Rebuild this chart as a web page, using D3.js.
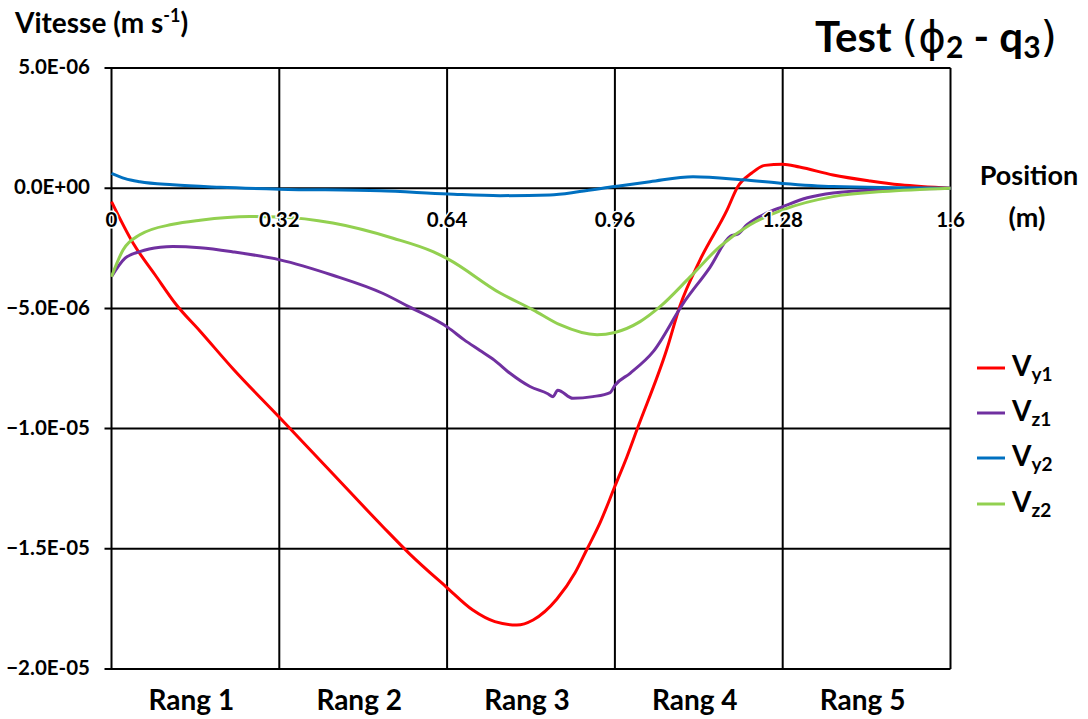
<!DOCTYPE html>
<html>
<head>
<meta charset="utf-8">
<script src="https://cdn.jsdelivr.net/npm/d3@7"></script>
<style>
  html, body { margin: 0; padding: 0; background: #fff; }
  svg { display: block; font-family: Lato, "Open Sans", sans-serif; }
</style>
</head>
<body>
<svg id="chart" width="1088" height="719"></svg>
<script>
// ---- data (velocities in units of 1e-6 m/s) ----
const UNIT = 1e-6;
const xTicks = [0, 0.32, 0.64, 0.96, 1.28, 1.6];
const xTickLabels = ["0", "0.32", "0.64", "0.96", "1.28", "1.6"];
const yTicks = [5e-6, 0, -5e-6, -1e-5, -1.5e-5, -2e-5];
const rangLabels = ["Rang 1", "Rang 2", "Rang 3", "Rang 4", "Rang 5"];
const seriesNames = ["y1", "z1", "y2", "z2"];
const seriesColors = ["#FF0000", "#7030A0", "#0070C0", "#92D050"];

const vy1X = [0, 0.041, 0.083, 0.124, 0.169, 0.232, 0.321, 0.422, 0.518, 0.569, 0.639, 0.689, 0.731, 0.773, 0.804, 0.849, 0.884, 0.906, 0.932, 0.960, 0.983, 1.002, 1.059, 1.084, 1.122, 1.174, 1.194, 1.221, 1.246, 1.280, 1.312, 1.376, 1.447, 1.504, 1.6];
const vy1Y = [-0.56, -2.28, -3.6, -4.86, -5.95, -7.52, -9.55, -11.88, -14.09, -15.22, -16.6, -17.55, -18.03, -18.17, -17.96, -17.1, -16.0, -15.05, -13.9, -12.4, -11.17, -10.05, -6.7, -4.9, -3.0, -0.9, 0.05, 0.63, 0.95, 1.0, 0.88, 0.55, 0.3, 0.14, 0];

const vz1X = [0, 0.026, 0.054, 0.093, 0.117, 0.169, 0.232, 0.321, 0.422, 0.518, 0.569, 0.642, 0.672, 0.702, 0.73, 0.76, 0.798, 0.832, 0.842, 0.851, 0.880, 0.918, 0.951, 0.960, 0.989, 1.033, 1.090, 1.141, 1.180, 1.195, 1.212, 1.250, 1.279, 1.327, 1.376, 1.471, 1.6];
const vz1Y = [-3.68, -2.91, -2.64, -2.46, -2.43, -2.48, -2.65, -2.98, -3.62, -4.38, -4.95, -5.8, -6.3, -6.74, -7.15, -7.7, -8.25, -8.55, -8.67, -8.4, -8.74, -8.67, -8.5, -8.2, -7.7, -6.8, -4.8, -3.3, -2.0, -1.9, -1.52, -1.03, -0.78, -0.4, -0.2, -0.07, 0];

const vy2X = [0, 0.026, 0.054, 0.117, 0.207, 0.321, 0.512, 0.642, 0.741, 0.836, 0.893, 0.960, 1.027, 1.109, 1.204, 1.279, 1.376, 1.6];
const vy2Y = [0.62, 0.4, 0.27, 0.14, 0.04, -0.04, -0.11, -0.24, -0.31, -0.28, -0.14, 0.07, 0.27, 0.48, 0.35, 0.2, 0.07, 0];

const vz2X = [0, 0.022, 0.054, 0.117, 0.169, 0.264, 0.321, 0.422, 0.537, 0.613, 0.642, 0.741, 0.804, 0.855, 0.926, 0.960, 1.008, 1.046, 1.103, 1.160, 1.217, 1.280, 1.376, 1.471, 1.6];
const vz2Y = [-3.68, -2.57, -1.94, -1.5, -1.33, -1.18, -1.2, -1.45, -2.08, -2.64, -2.95, -4.36, -5.06, -5.68, -6.1, -6.0, -5.55, -4.93, -3.7, -2.43, -1.53, -0.9, -0.35, -0.14, 0];

const seriesX = [vy1X, vz1X, vy2X, vz2X];
const seriesY = [vy1Y, vz1Y, vy2Y, vz2Y];

// ---- layout ----
const svg = d3.select("#chart");
const L = 111.5, R = 950.5, T = 68, B = 669;
const x = d3.scaleLinear().domain([0, 1.6]).range([L, R]);
const y = d3.scaleLinear().domain([-2e-5, 5e-6]).range([B, T]);

function sci(v) {
  const s = d3.format(".1e")(v);
  const [m, e] = s.split("e");
  const sign = e[0] === "-" ? "-" : "+";
  const digits = e.replace(/^[+-]/, "").padStart(2, "0");
  return m + "E" + sign + digits;
}

// grid horizontal lines + y ticks
const g = svg.append("g");
g.selectAll("line.h").data(yTicks).join("line")
  .attr("x1", L - 7).attr("x2", R)
  .attr("y1", d => y(d)).attr("y2", d => y(d))
  .attr("stroke", "#000").attr("stroke-width", 2);
// vertical grid lines
g.selectAll("line.v").data(xTicks).join("line")
  .attr("x1", d => x(d)).attr("x2", d => x(d))
  .attr("y1", T).attr("y2", B)
  .attr("stroke", "#000").attr("stroke-width", 2);

// y labels
svg.append("g").selectAll("text").data(yTicks).join("text")
  .attr("x", 90).attr("y", d => y(d)).attr("dy", "0.3em")
  .attr("text-anchor", "end")
  .attr("font-size", 20.5).attr("font-weight", "bold")
  .text(d => sci(d));

// series
const line = d3.line().curve(d3.curveMonotoneX);
seriesX.forEach((xs, i) => {
  const pts = xs.map((xv, j) => [x(xv), y(seriesY[i][j] * UNIT)]);
  svg.append("path").attr("d", line(pts))
    .attr("fill", "none").attr("stroke", seriesColors[i])
    .attr("stroke-width", 3).attr("stroke-linejoin", "round");
});

// x tick labels at zero line
svg.append("g").selectAll("text").data(xTicks).join("text")
  .attr("x", d => x(d)).attr("y", y(0) + 39)
  .attr("text-anchor", "middle")
  .attr("font-size", 20.5).attr("font-weight", "bold")
  .attr("stroke", "#fff").attr("stroke-width", 3).attr("paint-order", "stroke")
  .text((d, i) => xTickLabels[i]);

// Rang labels
svg.append("g").selectAll("text").data(rangLabels).join("text")
  .attr("x", (d, i) => (x(xTicks[i]) + x(xTicks[i + 1])) / 2 - 4)
  .attr("y", 710)
  .attr("text-anchor", "middle")
  .attr("font-size", 28).attr("font-weight", "bold")
  .text(d => d);

// y axis title
const yt = svg.append("text").attr("x", 15).attr("y", 33)
  .attr("font-size", 28).attr("font-weight", "bold");
yt.append("tspan").text("Vitesse (m s");
yt.append("tspan").attr("font-size", 18).attr("dy", -11).text("-1");
yt.append("tspan").attr("dy", 11).text(")");

// title
const tt = svg.append("text").attr("x", 1057).attr("y", 52)
  .attr("text-anchor", "end").attr("font-size", 42).attr("font-weight", "bold");
tt.append("tspan").text("Test ");
tt.append("tspan").attr("font-weight", "normal").attr("font-family", "DejaVu Sans").attr("font-size", 42).text("(ϕ");
tt.append("tspan").attr("font-size", 30).attr("dy", 6).text("2");
tt.append("tspan").attr("dy", -6).text(" - q");
tt.append("tspan").attr("font-size", 30).attr("dy", 6).text("3");
tt.append("tspan").attr("dy", -6).attr("font-weight", "normal").attr("font-family", "DejaVu Sans").text(")");

// x axis title
svg.append("text").attr("x", 1029).attr("y", 185).attr("text-anchor", "middle")
  .attr("font-size", 27).attr("font-weight", "bold").text("Position");
svg.append("text").attr("x", 1027).attr("y", 227).attr("text-anchor", "middle")
  .attr("font-size", 27).attr("font-weight", "bold").text("(m)");

// legend
const leg = svg.append("g");
const legY = [368, 413, 458, 504];
seriesNames.forEach((n, i) => {
  leg.append("line").attr("x1", 977).attr("x2", 1005)
    .attr("y1", legY[i]).attr("y2", legY[i])
    .attr("stroke", seriesColors[i]).attr("stroke-width", 3);
  const t = leg.append("text").attr("x", 1012).attr("y", legY[i] + 8)
    .attr("font-size", 28).attr("font-weight", "bold");
  t.append("tspan").text("V");
  t.append("tspan").attr("font-size", 19).attr("dy", 5).text(n);
});
</script>
</body>
</html>
